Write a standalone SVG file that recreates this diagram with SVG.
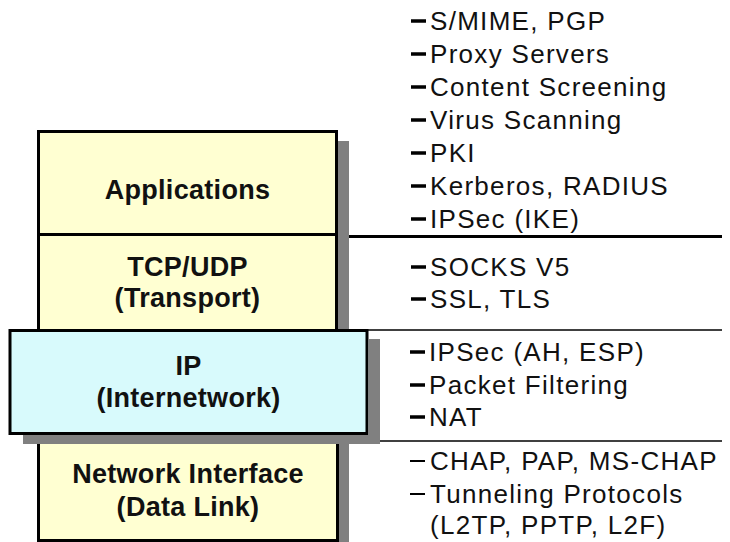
<svg xmlns="http://www.w3.org/2000/svg" width="730" height="542" viewBox="0 0 730 542">
<style>
.box{stroke:#000;stroke-width:3}
.yel{fill:#ffffd2}
.cyan{fill:#d8fafc}
.shadow{fill:#808080}
.lbl{font-family:"Liberation Sans",Arial,sans-serif;font-weight:bold;font-size:27px;fill:#111;text-anchor:middle;letter-spacing:0.3px}
.item{font-family:"Liberation Sans",Arial,sans-serif;font-size:26px;fill:#111;letter-spacing:1.3px}
.dash{stroke:#000;stroke-width:3.5}
.dash2{stroke:#000;stroke-width:2}
.sep{stroke:#000;fill:none}
</style>
<rect width="730" height="542" fill="#fff"/>
<g id="connectors">
<line class="sep" x1="338" y1="236.5" x2="722" y2="236.5" stroke-width="3"/>
<line class="sep" x1="338" y1="330" x2="722" y2="330" stroke-width="1.5"/>
<line class="sep" x1="338" y1="441" x2="722" y2="441" stroke-width="1.5"/>
</g>
<g id="applications">
<rect class="shadow" x="338" y="141" width="11" height="190"/>
<rect class="box yel" x="38.5" y="131.5" width="298" height="103"/>
<text class="lbl" x="187.5" y="199">Applications</text>
</g>
<g id="tcp-udp">
<rect class="box yel" x="38.5" y="234.5" width="298" height="96"/>
<text class="lbl" x="187.5" y="276">TCP/UDP</text>
<text class="lbl" x="187.5" y="307">(Transport)</text>
</g>
<g id="network-interface">
<rect class="shadow" x="339" y="444" width="10" height="98"/>
<rect class="box yel" x="38.5" y="434" width="299" height="106.5"/>
<text class="lbl" x="188" y="483">Network Interface</text>
<text class="lbl" x="188" y="516">(Data Link)</text>
</g>
<g id="ip">
<rect class="shadow" x="369" y="339" width="11" height="105"/>
<rect class="shadow" x="23" y="435" width="357" height="9"/>
<rect class="box cyan" x="10" y="330.5" width="357" height="103"/>
<text class="lbl" x="188.5" y="375">IP</text>
<text class="lbl" x="188.5" y="407">(Internetwork)</text>
</g>
<g id="app-items">
<line class="dash" x1="411" y1="21" x2="426" y2="21"/>
<text class="item" x="430" y="30">S/MIME, PGP</text>
<line class="dash" x1="411" y1="54" x2="426" y2="54"/>
<text class="item" x="430" y="63">Proxy Servers</text>
<line class="dash" x1="411" y1="87" x2="426" y2="87"/>
<text class="item" x="430" y="96">Content Screening</text>
<line class="dash" x1="411" y1="120" x2="426" y2="120"/>
<text class="item" x="430" y="129">Virus Scanning</text>
<line class="dash" x1="411" y1="153" x2="426" y2="153"/>
<text class="item" x="430" y="162">PKI</text>
<line class="dash" x1="411" y1="186" x2="426" y2="186"/>
<text class="item" x="430" y="195">Kerberos, RADIUS</text>
<line class="dash" x1="411" y1="219" x2="426" y2="219"/>
<text class="item" x="430" y="228">IPSec (IKE)</text>
</g>
<g id="transport-items">
<line class="dash" x1="411" y1="267" x2="426" y2="267"/>
<text class="item" x="430" y="276">SOCKS V5</text>
<line class="dash" x1="411" y1="299" x2="426" y2="299"/>
<text class="item" x="430" y="308">SSL, TLS</text>
</g>
<g id="ip-items">
<line class="dash" x1="410" y1="352" x2="425" y2="352"/>
<text class="item" x="429" y="361">IPSec (AH, ESP)</text>
<line class="dash" x1="410" y1="385" x2="425" y2="385"/>
<text class="item" x="429" y="394">Packet Filtering</text>
<line class="dash" x1="410" y1="417" x2="425" y2="417"/>
<text class="item" x="429" y="426">NAT</text>
</g>
<g id="link-items">
<line class="dash2" x1="410" y1="461" x2="425" y2="461"/>
<text class="item" x="430" y="470">CHAP, PAP, MS-CHAP</text>
<line class="dash2" x1="410" y1="494" x2="425" y2="494"/>
<text class="item" x="430" y="503">Tunneling Protocols</text>
<text class="item" x="430" y="534">(L2TP, PPTP, L2F)</text>
</g>
</svg>
